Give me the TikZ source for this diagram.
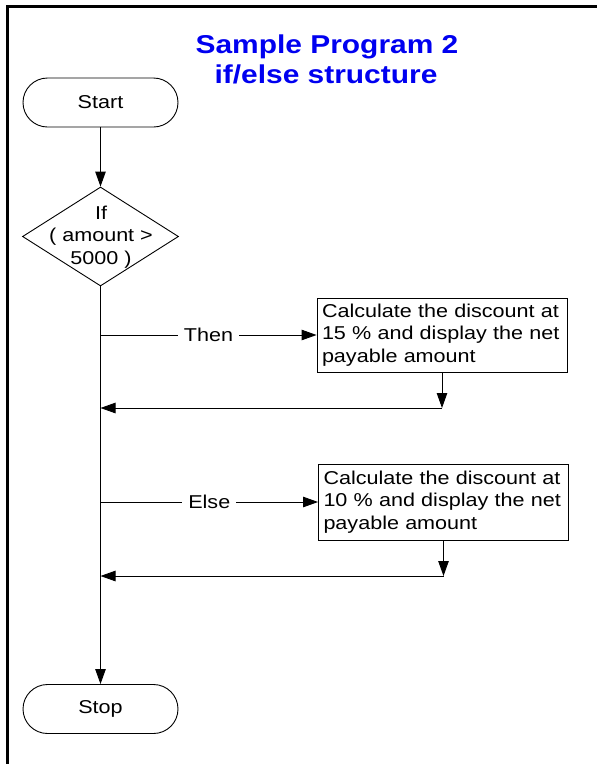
\documentclass[tikz,border=0pt]{standalone}
\usepackage{fontspec}
\setmainfont{Liberation Sans}[FakeStretch=1.16]
\usetikzlibrary{arrows.meta,shapes.geometric}
\definecolor{titleblue}{RGB}{0,0,240}
\begin{document}
\begin{tikzpicture}[x=1pt,y=-1pt,
  every node/.style={font=\fontsize{18.6}{22.5}\selectfont, text=black},
  line/.style={draw=black, line width=0.9pt},
  arr/.style={line, -{Triangle[length=15pt,width=10.5pt]}},
  term/.style={draw, line width=0.9pt, rectangle, rounded corners=24.5pt, minimum width=155pt, minimum height=49pt, inner sep=0pt},
  proc/.style={draw, line width=0.9pt, rectangle, text width=240pt, align=left, inner xsep=5pt, inner ysep=0pt, minimum height=74pt},
  decision/.style={draw, line width=0.9pt, diamond, minimum width=156pt, minimum height=99pt, inner sep=0pt},
  lbl/.style={fill=white, inner xsep=6pt, inner ysep=1pt},
  ttl/.style={font=\fontsize{25.8}{30}\selectfont\bfseries, text=titleblue, anchor=base, inner sep=0pt}
]
\useasboundingbox (0,0) rectangle (597,764);
% frame
\draw[line width=2.5pt] (7.5,764) -- (7.5,6.5) -- (597,6.5);
% title
\node[ttl] (title1) at (327,53) {Sample Program 2};
\node[ttl] (title2) at (326,83) {if/else structure};
% nodes
\node[term] (start) at (100.5,102.5) {Start};
\node[decision] (dec) at (100.5,236.5) {};
\node[align=center, inner sep=0pt] (dectext) at (101,237) {If\\( amount >\\5000 )};
\node[proc] (box1) at (442,335) {Calculate the discount at 15 \% and display the net payable amount};
\node[proc, minimum height=76pt] (box2) at (443.5,502) {Calculate the discount at 10 \% and display the net payable amount};
\node[term] (stop) at (100.5,709) {Stop};
% helper coordinates
\coordinate (t1) at (100.5,335);
\coordinate (e1) at (100.5,502);
\coordinate (j1) at (442,408);
\coordinate (j2) at (443.5,576);
% connectors
\draw[arr] (start.south) -- (dec.north);
\draw[arr] (dec.south) -- (stop.north);
\draw[arr] (t1) -- node[lbl] (thenlbl) {Then} (box1.west);
\draw[arr] (box1.south) -- (j1);
\draw[arr] (j1) -- (j1 -| t1);
\draw[arr] (e1) -- node[lbl] (elselbl) {Else} (box2.west);
\draw[arr] (box2.south) -- (j2);
\draw[arr] (j2) -- (j2 -| e1);
\end{tikzpicture}
\end{document}
